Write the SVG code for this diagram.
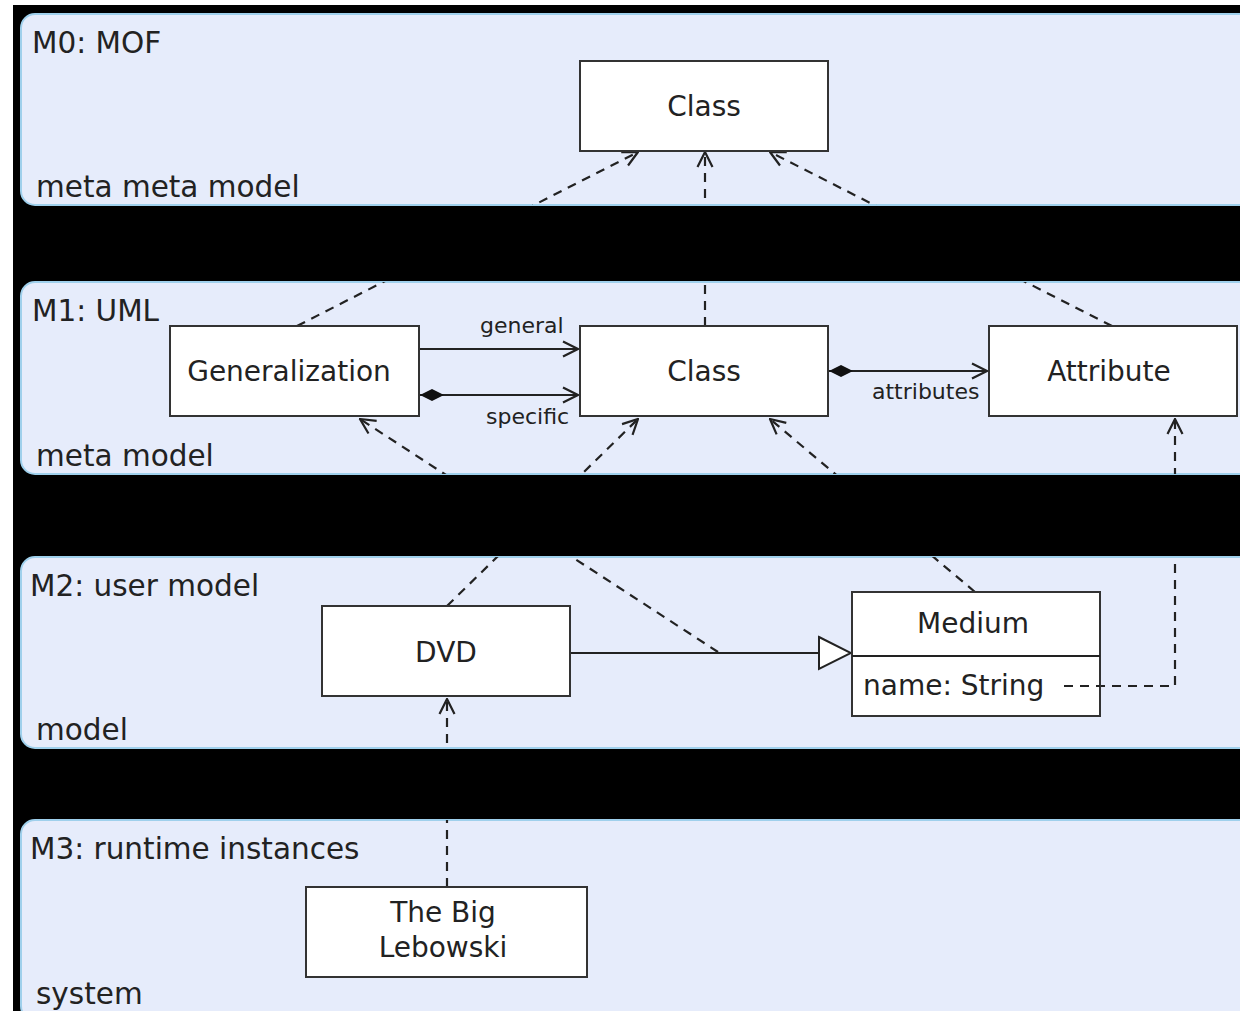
<svg xmlns="http://www.w3.org/2000/svg" width="1240" height="1011" viewBox="0 0 1240 1011">
<style>
.band{fill:#e6ecfb;stroke:#9fd0ec;stroke-width:2}
.box{fill:#ffffff;stroke:#333333;stroke-width:2}
.t{font-family:"DejaVu Sans",sans-serif;font-size:28px;fill:#222222}
.l{font-size:29.5px}
.c{text-anchor:middle}
.s{font-family:"DejaVu Sans",sans-serif;font-size:22px;fill:#222222}
.dash{fill:none;stroke:#222222;stroke-width:2.2;stroke-dasharray:9,7}
.solid{fill:none;stroke:#222222;stroke-width:2.2}
</style>
<defs>
<marker id="open" viewBox="0 0 18 18" refX="17" refY="9" markerWidth="18" markerHeight="18" markerUnits="userSpaceOnUse" orient="auto">
<path d="M2,1.5 L17,9 L2,16.5" fill="none" stroke="#222222" stroke-width="2.2"/>
</marker>
<marker id="tri" viewBox="0 0 34 36" refX="33" refY="18" markerWidth="34" markerHeight="36" markerUnits="userSpaceOnUse" orient="auto">
<path d="M1,2 L33,18 L1,34 Z" fill="#ffffff" stroke="#222222" stroke-width="2"/>
</marker>
<marker id="dia" viewBox="0 0 26 14" refX="1" refY="7" markerWidth="26" markerHeight="14" markerUnits="userSpaceOnUse" orient="auto">
<path d="M1,7 L13,1 L25,7 L13,13 Z" fill="#111111"/>
</marker>
<clipPath id="bands">
<rect x="21" y="14" width="1240" height="191" rx="14"/>
<rect x="21" y="282" width="1240" height="192" rx="14"/>
<rect x="21" y="557" width="1240" height="191" rx="14"/>
<rect x="21" y="820" width="1240" height="200" rx="14"/>
</clipPath>
</defs>
<rect x="0" y="0" width="1240" height="1011" fill="#ffffff"/>
<rect x="13" y="5" width="1227" height="1006" fill="#000000"/>
<g id="layers">
<g id="m0"><rect class="band" x="21" y="14" width="1240" height="191" rx="14"/>
<text class="t l" x="32" y="53">M0: MOF</text><text class="t l" x="36" y="197">meta meta model</text></g>
<g id="m1"><rect class="band" x="21" y="282" width="1240" height="192" rx="14"/>
<text class="t l" x="32" y="321">M1: UML</text><text class="t l" x="36" y="466">meta model</text></g>
<g id="m2"><rect class="band" x="21" y="557" width="1240" height="191" rx="14"/>
<text class="t l" x="30" y="596">M2: user model</text><text class="t l" x="36" y="740">model</text></g>
<g id="m3"><rect class="band" x="21" y="820" width="1240" height="200" rx="14"/>
<text class="t l" x="30" y="859">M3: runtime instances</text><text class="t l" x="36" y="1004">system</text></g>
</g>
<g id="connectors">
<g clip-path="url(#bands)">
<line class="dash" x1="297" y1="326" x2="638" y2="152" marker-end="url(#open)"/>
<line class="dash" x1="705" y1="326" x2="705" y2="152" marker-end="url(#open)"/>
<line class="dash" x1="1112" y1="326" x2="770" y2="152" marker-end="url(#open)"/>
<line class="dash" x1="447" y1="606" x2="638" y2="419" marker-end="url(#open)"/>
<line class="dash" x1="718" y1="652" x2="360" y2="419" marker-end="url(#open)"/>
<line class="dash" x1="975" y1="592" x2="770" y2="419" marker-end="url(#open)"/>
<polyline class="dash" points="1064,686 1175,686 1175,419" marker-end="url(#open)"/>
<line class="dash" x1="447" y1="887" x2="447" y2="699" marker-end="url(#open)"/>
</g>
<line class="solid" x1="419" y1="349" x2="578" y2="349" marker-end="url(#open)"/>
<line class="solid" x1="420" y1="395" x2="578" y2="395" marker-start="url(#dia)" marker-end="url(#open)"/>
<line class="solid" x1="829" y1="371" x2="987" y2="371" marker-start="url(#dia)" marker-end="url(#open)"/>
<line class="solid" x1="570" y1="653" x2="851" y2="653" marker-end="url(#tri)"/>
<text class="s" x="480" y="333">general</text>
<text class="s" x="486" y="424">specific</text>
<text class="s" x="872" y="399">attributes</text>
</g>
<g id="class0"><rect class="box" x="580" y="61" width="248" height="90"/><text class="t c" x="704" y="116">Class</text></g>
<g id="generalization"><rect class="box" x="170" y="326" width="249" height="90"/><text class="t c" x="289" y="381">Generalization</text></g>
<g id="class1"><rect class="box" x="580" y="326" width="248" height="90"/><text class="t c" x="704" y="381">Class</text></g>
<g id="attribute"><rect class="box" x="989" y="326" width="248" height="90"/><text class="t c" x="1109" y="381">Attribute</text></g>
<g id="dvd"><rect class="box" x="322" y="606" width="248" height="90"/><text class="t c" x="446" y="662">DVD</text></g>
<g id="medium"><rect class="box" x="852" y="592" width="248" height="124"/><line class="solid" x1="852" y1="656" x2="1100" y2="656"/>
<text class="t c" x="973" y="633">Medium</text><text class="t" x="863" y="695">name: String</text>
<line class="dash" x1="1064" y1="686" x2="1100" y2="686"/></g>
<g id="lebowski"><rect class="box" x="306" y="887" width="281" height="90"/><text class="t c" x="443" y="922">The Big</text><text class="t c" x="443" y="957">Lebowski</text></g>
</svg>
